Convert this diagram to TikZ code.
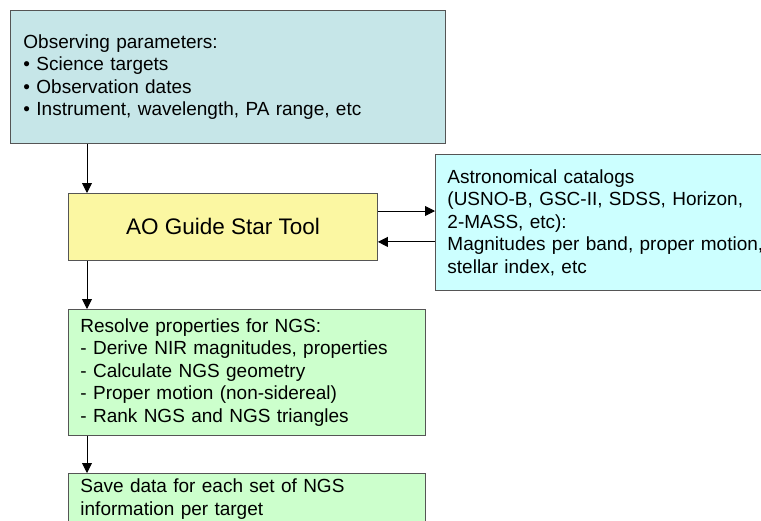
\documentclass[tikz,border=0pt]{standalone}
\usepackage{fontspec}
\setmainfont{Liberation Sans}
\usetikzlibrary{arrows.meta}
\definecolor{bxteal}{HTML}{C6E6E8}
\definecolor{bxyellow}{HTML}{FBF7A2}
\definecolor{bxcyan}{HTML}{CCFFFF}
\definecolor{bxgreen}{HTML}{CCFFCC}
\definecolor{bxborder}{HTML}{555555}
\tikzset{
  box/.style={draw=bxborder, line width=0.9pt, anchor=north west, align=left,
    font=\fontsize{19}{22.5}\selectfont, inner ysep=0pt},
  arr/.style={draw=black, line width=0.9pt, -{Triangle[length=10pt,width=10pt]}}
}
\begin{document}
\begin{tikzpicture}[x=1pt,y=-1pt]
\useasboundingbox (0,0) rectangle (761,520);
\clip (0,0) rectangle (761,520);
\node[box, fill=bxteal, text width=409pt, inner xsep=13pt, minimum height=133pt] (b1) at (10,10)
  {Observing parameters:\\ \textbullet\ Science targets\\ \textbullet\ Observation dates\\ \textbullet\ Instrument, wavelength, PA range, etc};
\node[box, fill=bxyellow, align=center, minimum width=309pt, minimum height=67pt, inner xsep=0pt,
  font=\fontsize{22.5}{26}\selectfont] (b2) at (68,193) {AO Guide Star Tool};
\node[box, fill=bxcyan, text width=336pt, inner xsep=12pt, minimum height=136pt] (b3) at (435,154)
  {Astronomical catalogs\\ (USNO-B, GSC-II, SDSS, Horizon,\\ 2-MASS, etc):\\ Magnitudes per band, proper motion,\\ stellar index, etc};
\node[box, fill=bxgreen, text width=333pt, inner xsep=12pt, minimum height=126pt] (b4) at (68,309)
  {Resolve properties for NGS:\\ - Derive NIR magnitudes, properties\\ - Calculate NGS geometry\\ - Proper motion (non-sidereal)\\ - Rank NGS and NGS triangles};
\node[box, fill=bxgreen, text width=333pt, inner xsep=12pt, minimum height=51pt] (b5) at (68,473)
  {Save data for each set of NGS\\ information per target};
\draw[arr] ([xshift=19pt]b2.north west |- b1.south) -- ([xshift=19pt]b2.north west);
\draw[arr] ([xshift=19pt]b4.north west |- b2.south) -- ([xshift=19pt]b4.north west);
\draw[arr] ([xshift=19pt]b5.north west |- b4.south) -- ([xshift=19pt]b5.north west);
\draw[arr] ([yshift=-18pt]b2.north east) -- ([yshift=-18pt]b2.north east -| b3.west);
\draw[arr] ([yshift=19pt]b2.south east -| b3.west) -- ([yshift=19pt]b2.south east);
\end{tikzpicture}
\end{document}
